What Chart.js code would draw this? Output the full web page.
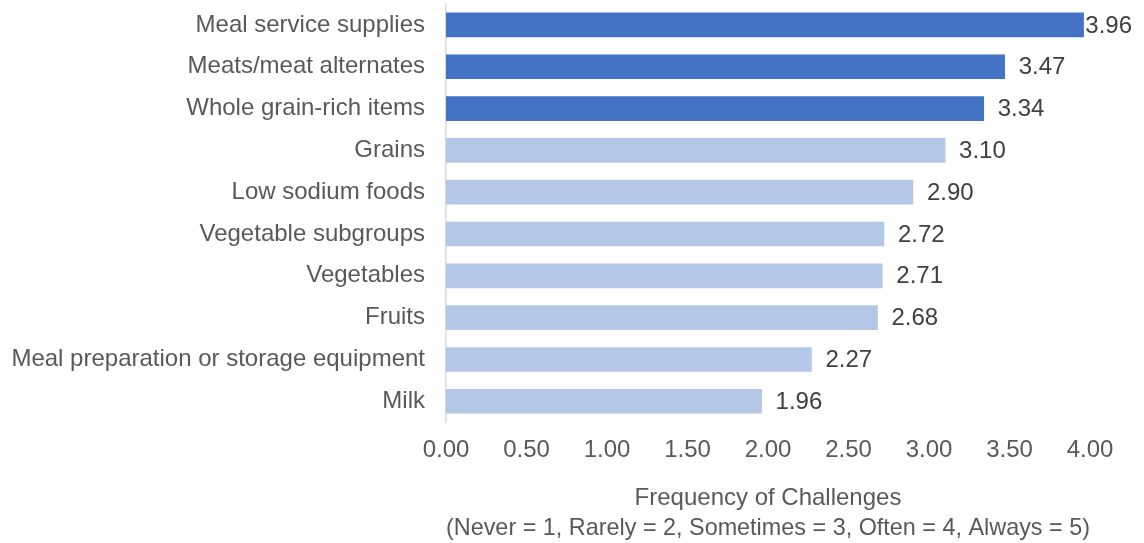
<!DOCTYPE html>
<html>
<head>
    <title>Frequency of Challenges</title>
    <script src="https://cdn.jsdelivr.net/npm/chart.js"></script>
    <style>
        body { margin: 0; background: #fff; }
        .chart-box { width: 1144px; height: 543px; position: relative; }
    </style>
</head>
<body>
    <div class="chart-box">
        <canvas id="challengeChart"></canvas>
    </div>

    <script>
        const categories = [
            'Meal service supplies',
            'Meats/meat alternates',
            'Whole grain-rich items',
            'Grains',
            'Low sodium foods',
            'Vegetable subgroups',
            'Vegetables',
            'Fruits',
            'Meal preparation or storage equipment',
            'Milk'
        ];
        const scores = [3.96, 3.47, 3.34, 3.10, 2.90, 2.72, 2.71, 2.68, 2.27, 1.96];
        const highlighted = [true, true, true, false, false, false, false, false, false, false];
        const xTitle = ['Frequency of Challenges', '(Never = 1, Rarely = 2, Sometimes = 3, Often = 4, Always = 5)'];

        const darkBlue = '#4472C4';
        const lightBlue = '#B4C7E7';
        const fontFamily = '"Liberation Sans", Arial, sans-serif';

        // value labels at the end of each bar (kept inside the canvas)
        const valueLabels = {
            id: 'valueLabels',
            afterDatasetsDraw(chart) {
                const ctx = chart.ctx;
                const meta = chart.getDatasetMeta(0);
                ctx.save();
                ctx.font = '24px ' + fontFamily;
                ctx.fillStyle = '#404040';
                ctx.textAlign = 'left';
                ctx.textBaseline = 'middle';
                meta.data.forEach((bar, i) => {
                    const text = scores[i].toFixed(2);
                    const w = ctx.measureText(text).width;
                    const x = Math.min(bar.x + 14, chart.width - 12 - w);
                    ctx.fillText(text, x, bar.y + 1);
                });
                ctx.restore();
            }
        };

        new Chart(document.getElementById('challengeChart'), {
            type: 'bar',
            data: {
                labels: categories,
                datasets: [{
                    data: scores,
                    backgroundColor: highlighted.map(h => h ? darkBlue : lightBlue),
                    barThickness: 24
                }]
            },
            options: {
                indexAxis: 'y',
                responsive: true,
                maintainAspectRatio: false,
                animation: false,
                layout: { padding: { top: 4, right: 54, bottom: 0, left: 0 } },
                plugins: {
                    legend: { display: false },
                    tooltip: { enabled: false }
                },
                scales: {
                    x: {
                        min: 0,
                        max: 4,
                        grid: { display: false },
                        border: { display: false },
                        ticks: {
                            stepSize: 0.5,
                            padding: 6,
                            color: '#595959',
                            font: { family: fontFamily, size: 24 },
                            callback: value => value.toFixed(2)
                        },
                        title: {
                            display: true,
                            text: xTitle,
                            color: '#595959',
                            padding: { top: 12, bottom: 0 },
                            font: { family: fontFamily, size: 24, lineHeight: 1.25 }
                        }
                    },
                    y: {
                        grid: { display: false },
                        border: { display: true, color: '#D9D9D9', width: 1.5 },
                        afterFit: scale => {
                            scale.width = 446;
                            scale.paddingTop = 0;
                            scale.paddingBottom = 0;
                        },
                        ticks: {
                            padding: 13,
                            color: '#595959',
                            font: { family: fontFamily, size: 24 }
                        }
                    }
                }
            },
            plugins: [valueLabels]
        });
    </script>
</body>
</html>
